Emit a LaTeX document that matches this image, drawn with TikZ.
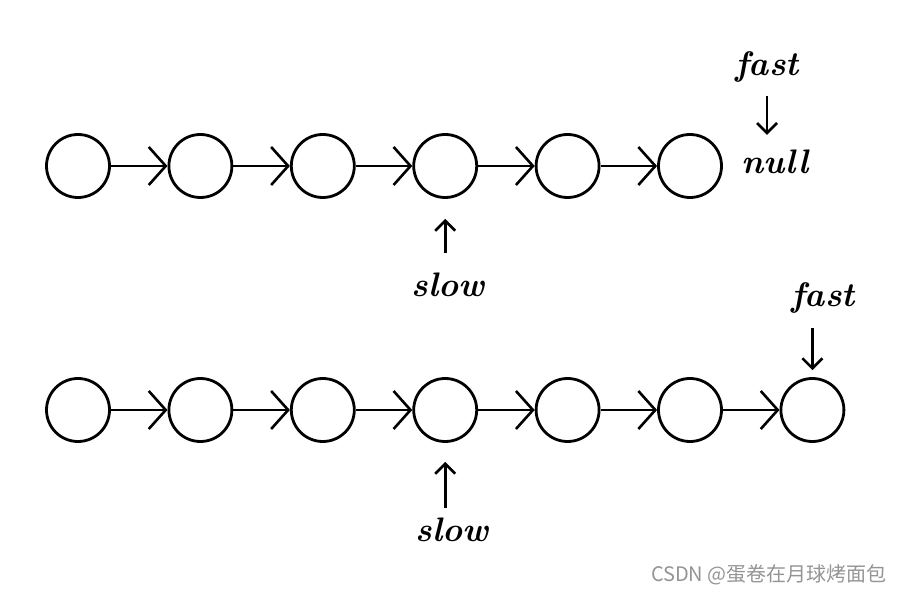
\documentclass[tikz,border=0pt]{standalone}
\usepackage{fontspec}
\newfontfamily\cjk{Noto Sans CJK SC}
\usetikzlibrary{arrows.meta}
\begin{document}
\begin{tikzpicture}[x=1pt,y=1pt,
  nd/.style={circle,draw,line width=2.8pt,minimum size=63pt,inner sep=0pt},
  nx/.style={line width=2.6pt,-{Straight Barb[length=17pt,width=38pt,line width=2.6pt]}},
  ptr/.style={line width=2.6pt,-{Straight Barb[length=10pt,width=20pt,line width=2.6pt]}},
  hw/.style={inner sep=0pt,font=\bfseries\itshape\fontsize{34}{34}\selectfont}]
\useasboundingbox (0,0) rectangle (902,594);
% first list
\foreach \i in {1,...,6} \node[nd] (a\i) at ({78+122.4*(\i-1)},428) {};
\foreach \i [count=\j from 2] in {1,...,5} \draw[nx] (a\i) -- (a\j);
\node[hw] (fastA) at (767,527) {fast};
\node[hw] (nullA) at (775,432) {null};
\node[hw] (slowA) at (448,309) {slow};
\draw[ptr,shorten <=13pt] (fastA.south) -- (fastA.south |- nullA.north) [shorten >=15pt];
\draw[ptr,shorten <=20pt,shorten >=20pt] (slowA.north -| a4) -- (a4.south);
% second list
\foreach \i in {1,...,7} \node[nd] (b\i) at ({78+122.4*(\i-1)},184) {};
\foreach \i [count=\j from 2] in {1,...,6} \draw[nx] (b\i) -- (b\j);
\node[hw] (fastB) at (823,296) {fast};
\node[hw] (slowB) at (452,64) {slow};
\draw[ptr,shorten <=14pt,shorten >=7pt] (fastB.south -| b7) -- (b7.north);
\draw[ptr,shorten <=10pt,shorten >=19pt] (slowB.north -| b4) -- (b4.south);
% watermark
\node[anchor=east,inner sep=0pt,text=black!42,font=\cjk\fontsize{20}{20}\selectfont] (mark) at (887,19) {CSDN @蛋卷在月球烤面包};
\end{tikzpicture}
\end{document}
